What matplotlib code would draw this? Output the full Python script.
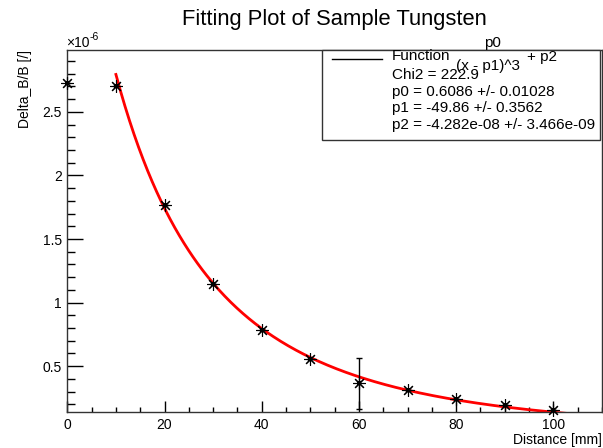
import matplotlib
matplotlib.use('Agg')
import numpy as np
import matplotlib.pyplot as plt
from matplotlib.ticker import MultipleLocator

plt.rcParams['font.family'] = ['Liberation Sans', 'DejaVu Sans']

# data (Delta_B/B in units of 1e-6)
distance = [0, 10, 20, 30, 40, 50, 60, 70, 80, 90, 100]
delta_bb = [2.724, 2.703, 1.766, 1.144, 0.784, 0.558, 0.366, 0.314, 0.243, 0.191, 0.152]
delta_err = [0, 0, 0, 0, 0, 0, 0.2, 0, 0, 0, 0]

# fit result p0/(x-p1)^3 + p2
p0, p1, p2 = 0.6086, -49.86, -4.282e-08
fit_range = (10, 103)
stat_lines = ["Chi2 = 222.9",
              "p0 = 0.6086 +/- 0.01028",
              "p1 = -49.86 +/- 0.3562",
              "p2 = -4.282e-08 +/- 3.466e-09"]

W, H = 603, 448
fig = plt.figure(figsize=(W / 100, H / 100), dpi=100)
L, R, T, B = 67.3, 602, 50, 412.3
ax = fig.add_axes([L / W, 1 - B / H, (R - L) / W, (B - T) / H])

xf = np.linspace(fit_range[0], fit_range[1], 300)
yf = (p0 / (xf - p1) ** 3 + p2) * 1e6
ax.plot(xf, yf, color='red', lw=2, zorder=2)

ax.errorbar(distance, delta_bb, yerr=delta_err, fmt='none', ecolor='black',
            elinewidth=1, capsize=2.5, capthick=1, zorder=3)
ax.plot(distance, delta_bb, ls='none', marker=(8, 2, 0), ms=9, mew=0.8,
        color='black', clip_on=False, zorder=4)
ax.plot(distance, delta_bb, ls='none', marker='s', ms=2.5, mew=0,
        color='black', clip_on=False, zorder=4)

ax.set_xlim(0, 110)
ax.set_ylim(0.137, 2.987)
ax.xaxis.set_minor_locator(MultipleLocator(5))
ax.yaxis.set_minor_locator(MultipleLocator(0.1))
ax.set_xticks([0, 20, 40, 60, 80, 100])
ax.set_xticklabels(['0', '20', '40', '60', '80', '100'])
ax.set_yticks([0.5, 1, 1.5, 2, 2.5])
ax.set_yticklabels(['0.5', '1', '1.5', '2', '2.5'])
ax.tick_params(axis='x', which='major', direction='in', length=8, width=1, labelsize=10, pad=4)
ax.tick_params(axis='x', which='minor', direction='in', length=3.8, width=1)
ax.tick_params(axis='y', which='major', direction='in', length=11.5, width=1, labelsize=10, pad=4)
ax.tick_params(axis='y', which='minor', direction='in', length=5.5, width=1)
for s in ax.spines.values():
    s.set_color('#333333')
    s.set_linewidth(1)

fig.text(334 / W, 1 - 19 / H, "Fitting Plot of Sample Tungsten", ha='center', va='center', fontsize=15.8)
fig.text(602 / W, 1 - 440 / H, "Distance [mm]", ha='right', va='center', fontsize=10)
fig.text(25 / W, 1 - 50 / H, "Delta_B/B [/]", ha='center', va='top', rotation=90, fontsize=10)
fig.text(66 / W, 1 - 43 / H, "\u00d710", ha='left', va='center', fontsize=10)
fig.text(90 / W, 1 - 37 / H, "-6", ha='left', va='center', fontsize=7.5)

# stats box
bx0, by0, bx1, by1 = 322, 50, 600, 140
fig.patches.append(plt.Rectangle((bx0 / W, 1 - by1 / H), (bx1 - bx0) / W, (by1 - by0) / H,
                                 transform=fig.transFigure, fill=True, facecolor='white',
                                 edgecolor='#333333', lw=1, zorder=5))
fig.add_artist(plt.Line2D([332 / W, 382 / W], [1 - 59 / H, 1 - 59 / H], color='black', lw=1, zorder=6))
fs = 11
fig.text(392 / W, 1 - 56 / H, "Function", ha='left', va='center', fontsize=fs, zorder=7)
fig.text(492 / W, 1 - 43 / H, "p0", ha='center', va='center', fontsize=fs, zorder=7)
fig.text(488 / W, 1 - 66 / H, "(x - p1)^3", ha='center', va='center', fontsize=fs, zorder=7)
fig.text(527 / W, 1 - 57 / H, "+ p2", ha='left', va='center', fontsize=fs, zorder=7)
for i, s in enumerate(stat_lines):
    fig.text(392 / W, 1 - (75 + 16.7 * i) / H, s, ha='left', va='center', fontsize=fs, zorder=7)

fig.savefig('out.png', dpi=100)
